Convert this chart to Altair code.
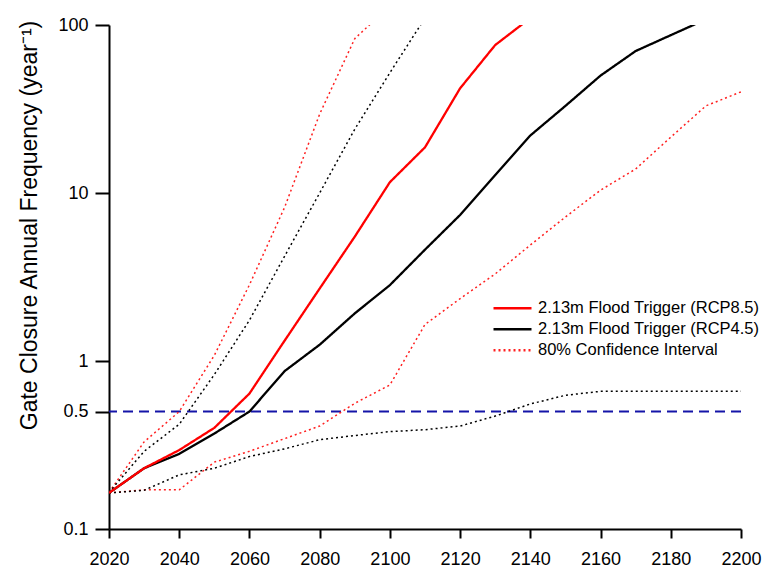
import altair as alt
import pandas as pd

years = list(range(2020, 2201, 10))

# Gate closure annual frequency (year^-1)
rcp85_mid = [0.164, 0.23, 0.295, 0.40, 0.64, 1.32, 2.7, 5.5, 11.6, 18.7, 42, 76, 110]
rcp45_mid = [0.164, 0.23, 0.28, 0.37, 0.50, 0.87, 1.25, 1.92, 2.83, 4.6, 7.4, 12.8,
             22, 33, 50, 70, 87, 108]
rcp85_upper = [0.165, 0.33, 0.50, 1.08, 2.84, 8.2, 29.5, 83, 130]
rcp85_lower = [0.164, 0.171, 0.171, 0.25, 0.29, 0.345, 0.41, 0.56, 0.72, 1.65, 2.35,
               3.3, 4.9, 7.2, 10.4, 13.9, 21.5, 33, 40]
rcp45_upper = [0.165, 0.29, 0.42, 0.83, 1.75, 4.2, 10, 24, 52, 110]
rcp45_lower = [0.164, 0.17, 0.21, 0.23, 0.27, 0.30, 0.34, 0.36, 0.38, 0.39, 0.41,
               0.47, 0.555, 0.625, 0.66, 0.66, 0.66, 0.66, 0.66]

threshold = 0.5

s85 = "2.13m Flood Trigger (RCP8.5)"
s45 = "2.13m Flood Trigger (RCP4.5)"
sci = "80% Confidence Interval"
sci45 = "80% Confidence Interval (RCP4.5)"

series_def = [
    ("rcp85_upper", sci, rcp85_upper),
    ("rcp85_lower", sci, rcp85_lower),
    ("rcp45_upper", sci45, rcp45_upper),
    ("rcp45_lower", sci45, rcp45_lower),
    ("rcp45_mid", s45, rcp45_mid),
    ("rcp85_mid", s85, rcp85_mid),
]

rows = []
for line_id, series, vals in series_def:
    for yr, v in zip(years, vals):
        rows.append({"year": yr, "freq": v, "series": series, "line": line_id})
df = pd.DataFrame(rows)

domain = [s85, s45, sci, sci45]
font = "Liberation Sans"

legend = alt.Legend(
    values=[s85, s45, sci],
    orient="none",
    legendX=383,
    legendY=275,
    title=None,
    symbolType="stroke",
    symbolSize=1444,
    symbolStrokeWidth=2.3,
    labelFontSize=16.5,
    labelFont=font,
    labelColor="black",
    labelLimit=0,
    labelOffset=5,
    clipHeight=16.5,
    rowPadding=4,
    padding=0,
)

x_enc = alt.X(
    "year:Q",
    scale=alt.Scale(domain=[2020, 2200], nice=False, zero=False),
    axis=alt.Axis(values=list(range(2020, 2201, 20)), format="d", title=None,
                  labelFlush=False, grid=False),
)
y_enc = alt.Y(
    "freq:Q",
    scale=alt.Scale(type="log", domain=[0.1, 100], nice=False),
    axis=alt.Axis(
        values=[0.1, 0.5, 1, 10, 100], format="~g", grid=False,
        title="Gate Closure Annual Frequency (year\u207b\u00b9)",
        titleX=-80, titleY=200, titleAngle=270, titleAlign="center",
        titleBaseline="middle", titleFontSize=23, titleFontWeight="normal",
        titleFont=font, titleColor="black",
        labelPadding=7, tickSize=14,
    ),
)

lines = alt.Chart(df).mark_line(clip=True).encode(
    x=x_enc,
    y=y_enc,
    color=alt.Color("series:N",
                    scale=alt.Scale(domain=domain,
                                    range=["#ff0000", "#000000", "#ff2020", "#000000"]),
                    legend=legend),
    strokeDash=alt.StrokeDash("series:N",
                              scale=alt.Scale(domain=domain,
                                              range=[[1, 0], [1, 0], [2, 3], [2, 3]]),
                              legend=legend),
    strokeWidth=alt.condition("indexof(datum.series, '80%') >= 0",
                              alt.value(1.5), alt.value(2.3)),
    detail="line:N",
)

rule = alt.Chart(pd.DataFrame({"level": [threshold]})).mark_rule(
    color="#1414a8", strokeWidth=2, strokeDash=[10, 6]
).encode(y=alt.Y("level:Q"))

chart = alt.layer(rule, lines).properties(
    width=632,
    height=504,
    autosize=alt.AutoSizeParams(type="none"),
    padding={"left": 109, "top": 25, "right": 30, "bottom": 40},
    background="white",
).configure_view(stroke=None).configure_axis(
    domainColor="black",
    domainWidth=2,
    tickColor="black",
    tickWidth=2,
    labelFontSize=18,
    labelFont=font,
    labelColor="black",
).configure_axisX(
    tickSize=9,
    labelPadding=12,
)

chart.save("out.html", embed_options={"renderer": "svg", "actions": False})
